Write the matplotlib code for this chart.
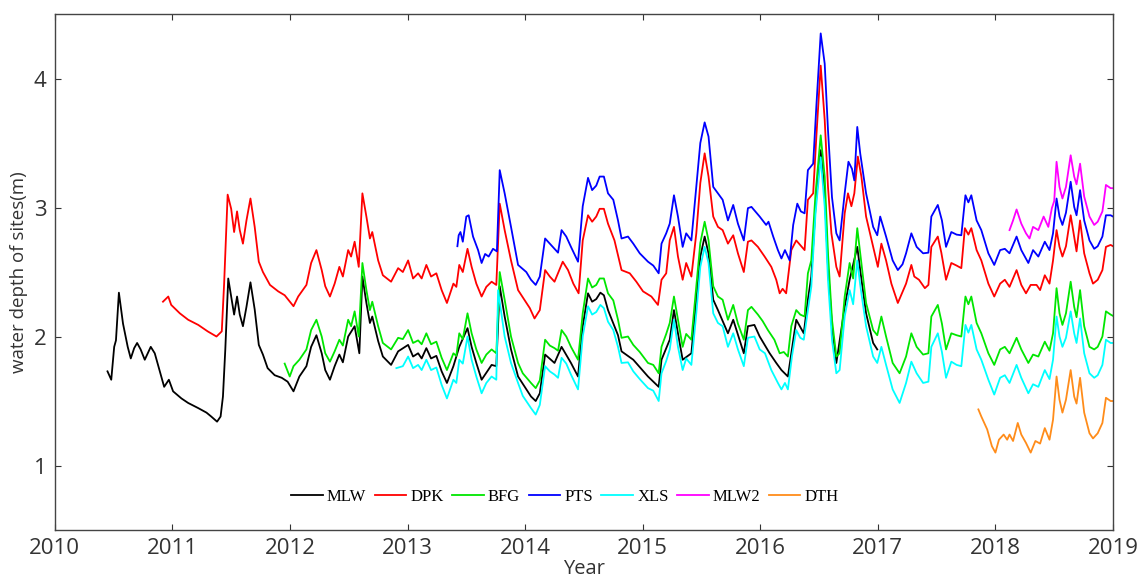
import numpy as np
import matplotlib
matplotlib.use("Agg")
import matplotlib.pyplot as plt

# (year, water depth in m)
mlw = [(2010.448, 1.73), (2010.48, 1.665), (2010.505, 1.92), (2010.52, 1.97), (2010.545, 2.34), (2010.58, 2.10),
       (2010.62, 1.92), (2010.646, 1.83), (2010.675, 1.91), (2010.70, 1.95), (2010.73, 1.90), (2010.765, 1.82),
       (2010.816, 1.92), (2010.85, 1.87), (2010.89, 1.74), (2010.93, 1.61), (2010.97, 1.665), (2011.006, 1.575),
       (2011.077, 1.52), (2011.134, 1.485), (2011.22, 1.445), (2011.29, 1.41), (2011.33, 1.38), (2011.38, 1.34),
       (2011.41, 1.38), (2011.43, 1.535), (2011.45, 1.90), (2011.475, 2.45), (2011.50, 2.31), (2011.525, 2.17),
       (2011.55, 2.31), (2011.573, 2.17), (2011.60, 2.08), (2011.63, 2.23), (2011.664, 2.42), (2011.70, 2.21),
       (2011.735, 1.935), (2011.77, 1.86), (2011.81, 1.755), (2011.87, 1.70), (2011.93, 1.68), (2011.98, 1.65),
       (2012.03, 1.575), (2012.08, 1.69), (2012.14, 1.77), (2012.18, 1.92), (2012.225, 2.01), (2012.27, 1.87),
       (2012.30, 1.74), (2012.34, 1.665), (2012.38, 1.77), (2012.42, 1.86), (2012.45, 1.80), (2012.495, 2.00),
       (2012.55, 2.08), (2012.59, 1.87), (2012.616, 2.465), (2012.65, 2.26), (2012.68, 2.105), (2012.70, 2.155),
       (2012.75, 1.965), (2012.79, 1.845), (2012.86, 1.78), (2012.92, 1.885), (2013.005, 1.935), (2013.047, 1.845),
       (2013.09, 1.87), (2013.12, 1.83), (2013.16, 1.91), (2013.20, 1.83), (2013.245, 1.85), (2013.29, 1.73),
       (2013.335, 1.64), (2013.39, 1.77), (2013.44, 1.92), (2013.51, 2.065), (2013.545, 1.92), (2013.585, 1.795),
       (2013.63, 1.665), (2013.715, 1.78), (2013.755, 1.77), (2013.784, 2.39), (2013.826, 2.155), (2013.88, 1.90),
       (2013.94, 1.69), (2014.05, 1.535), (2014.09, 1.50), (2014.125, 1.56), (2014.17, 1.86), (2014.25, 1.795),
       (2014.31, 1.92), (2014.39, 1.795), (2014.45, 1.69), (2014.49, 2.08), (2014.535, 2.335), (2014.57, 2.27),
       (2014.605, 2.29), (2014.64, 2.34), (2014.67, 2.32), (2014.705, 2.205), (2014.79, 2.01), (2014.82, 1.885),
       (2014.92, 1.82), (2015.045, 1.69), (2015.136, 1.61), (2015.16, 1.82), (2015.23, 1.975), (2015.266, 2.205),
       (2015.30, 2.025), (2015.34, 1.82), (2015.414, 1.87), (2015.456, 2.285), (2015.49, 2.62), (2015.527, 2.775),
       (2015.56, 2.645), (2015.60, 2.285), (2015.64, 2.205), (2015.725, 2.025), (2015.77, 2.13), (2015.86, 1.87),
       (2015.895, 2.08), (2015.95, 2.09), (2015.995, 2.00), (2016.08, 1.87), (2016.136, 1.795), (2016.18, 1.74),
       (2016.235, 1.69), (2016.306, 2.13), (2016.37, 2.025), (2016.405, 2.285), (2016.434, 2.465), (2016.47, 3.005),
       (2016.514, 3.445), (2016.548, 3.11), (2016.576, 2.54), (2016.61, 2.08), (2016.647, 1.795), (2016.718, 2.23),
       (2016.76, 2.44), (2016.825, 2.695), (2016.85, 2.515), (2016.90, 2.18), (2016.96, 1.95), (2016.995, 1.90)]

dpk = [(2010.92, 2.27), (2010.965, 2.31), (2010.99, 2.245), (2011.063, 2.18), (2011.134, 2.13), (2011.22, 2.09),
       (2011.30, 2.04), (2011.375, 2.00), (2011.42, 2.04), (2011.44, 2.41), (2011.47, 3.10), (2011.50, 2.99),
       (2011.525, 2.81), (2011.55, 2.97), (2011.573, 2.825), (2011.60, 2.72), (2011.63, 2.90), (2011.664, 3.07),
       (2011.70, 2.85), (2011.735, 2.58), (2011.77, 2.50), (2011.83, 2.40), (2011.90, 2.35), (2011.955, 2.32),
       (2012.03, 2.235), (2012.07, 2.31), (2012.14, 2.40), (2012.18, 2.57), (2012.225, 2.67), (2012.27, 2.515),
       (2012.30, 2.39), (2012.34, 2.31), (2012.38, 2.41), (2012.42, 2.54), (2012.45, 2.465), (2012.495, 2.67),
       (2012.52, 2.62), (2012.55, 2.735), (2012.585, 2.54), (2012.616, 3.11), (2012.65, 2.93), (2012.68, 2.76),
       (2012.70, 2.81), (2012.75, 2.59), (2012.79, 2.475), (2012.86, 2.425), (2012.92, 2.53), (2012.96, 2.50),
       (2013.005, 2.59), (2013.047, 2.45), (2013.09, 2.49), (2013.12, 2.45), (2013.16, 2.555), (2013.20, 2.465),
       (2013.245, 2.49), (2013.29, 2.36), (2013.335, 2.26), (2013.39, 2.41), (2013.415, 2.385), (2013.44, 2.555),
       (2013.47, 2.50), (2013.51, 2.68), (2013.545, 2.54), (2013.585, 2.41), (2013.63, 2.31), (2013.67, 2.385),
       (2013.715, 2.425), (2013.755, 2.40), (2013.784, 3.03), (2013.826, 2.825), (2013.88, 2.59), (2013.94, 2.36),
       (2013.997, 2.28), (2014.04, 2.22), (2014.08, 2.14), (2014.125, 2.205), (2014.17, 2.515), (2014.21, 2.465),
       (2014.25, 2.425), (2014.32, 2.58), (2014.365, 2.515), (2014.41, 2.41), (2014.455, 2.335), (2014.49, 2.745),
       (2014.535, 2.94), (2014.57, 2.89), (2014.605, 2.93), (2014.634, 2.99), (2014.67, 2.99), (2014.705, 2.875),
       (2014.76, 2.745), (2014.82, 2.515), (2014.89, 2.49), (2014.946, 2.425), (2015.003, 2.35), (2015.074, 2.31),
       (2015.13, 2.245), (2015.16, 2.44), (2015.20, 2.49), (2015.23, 2.745), (2015.266, 2.85), (2015.30, 2.62),
       (2015.34, 2.44), (2015.37, 2.57), (2015.414, 2.465), (2015.456, 2.80), (2015.49, 3.19), (2015.527, 3.42),
       (2015.56, 3.24), (2015.60, 2.93), (2015.64, 2.85), (2015.68, 2.825), (2015.725, 2.72), (2015.77, 2.785),
       (2015.81, 2.645), (2015.86, 2.50), (2015.895, 2.735), (2015.925, 2.745), (2015.98, 2.695), (2016.037, 2.62),
       (2016.094, 2.54), (2016.136, 2.44), (2016.165, 2.335), (2016.19, 2.37), (2016.22, 2.335), (2016.264, 2.67),
       (2016.306, 2.745), (2016.377, 2.67), (2016.405, 3.06), (2016.45, 3.11), (2016.477, 3.55), (2016.514, 4.10),
       (2016.548, 3.68), (2016.576, 3.16), (2016.605, 2.80), (2016.647, 2.54), (2016.675, 2.465), (2016.718, 2.955),
       (2016.746, 3.11), (2016.775, 3.01), (2016.80, 3.11), (2016.83, 3.395), (2016.86, 3.24), (2016.90, 2.93),
       (2016.96, 2.695), (2017.0, 2.54), (2017.03, 2.72), (2017.07, 2.59), (2017.115, 2.41), (2017.17, 2.26),
       (2017.24, 2.41), (2017.285, 2.555), (2017.31, 2.465), (2017.35, 2.44), (2017.40, 2.375), (2017.43, 2.40),
       (2017.455, 2.695), (2017.51, 2.775), (2017.54, 2.65), (2017.58, 2.44), (2017.625, 2.57), (2017.67, 2.55),
       (2017.71, 2.53), (2017.74, 2.84), (2017.77, 2.79), (2017.795, 2.84), (2017.84, 2.67), (2017.88, 2.59),
       (2017.94, 2.41), (2017.99, 2.31), (2018.04, 2.41), (2018.08, 2.44), (2018.12, 2.385), (2018.18, 2.515),
       (2018.22, 2.40), (2018.26, 2.335), (2018.30, 2.40), (2018.35, 2.40), (2018.38, 2.36), (2018.42, 2.475),
       (2018.46, 2.41), (2018.49, 2.59), (2018.52, 2.825), (2018.545, 2.695), (2018.57, 2.62), (2018.60, 2.70),
       (2018.64, 2.94), (2018.67, 2.775), (2018.69, 2.66), (2018.72, 2.90), (2018.755, 2.645), (2018.80, 2.49),
       (2018.83, 2.41), (2018.87, 2.44), (2018.91, 2.515), (2018.94, 2.695), (2018.98, 2.71), (2019.0, 2.70)]

bfg = [(2011.955, 1.79), (2011.998, 1.69), (2012.03, 1.77), (2012.08, 1.82), (2012.14, 1.90), (2012.18, 2.05),
       (2012.225, 2.13), (2012.27, 2.00), (2012.30, 1.87), (2012.34, 1.805), (2012.38, 1.885), (2012.42, 1.975),
       (2012.45, 1.93), (2012.495, 2.13), (2012.52, 2.08), (2012.55, 2.195), (2012.585, 2.00), (2012.616, 2.57),
       (2012.65, 2.36), (2012.68, 2.205), (2012.70, 2.27), (2012.75, 2.08), (2012.79, 1.95), (2012.86, 1.90),
       (2012.92, 1.99), (2012.96, 1.98), (2013.005, 2.05), (2013.047, 1.95), (2013.09, 1.97), (2013.12, 1.94),
       (2013.16, 2.025), (2013.20, 1.94), (2013.245, 1.96), (2013.29, 1.835), (2013.335, 1.74), (2013.39, 1.87),
       (2013.415, 1.85), (2013.44, 2.025), (2013.47, 1.98), (2013.51, 2.18), (2013.545, 2.025), (2013.585, 1.90),
       (2013.63, 1.795), (2013.67, 1.86), (2013.715, 1.90), (2013.755, 1.87), (2013.784, 2.50), (2013.826, 2.285),
       (2013.88, 2.00), (2013.94, 1.795), (2013.98, 1.715), (2014.05, 1.64), (2014.09, 1.60), (2014.125, 1.66),
       (2014.17, 1.975), (2014.21, 1.93), (2014.25, 1.91), (2014.28, 1.89), (2014.31, 2.05), (2014.35, 2.00),
       (2014.39, 1.92), (2014.45, 1.82), (2014.49, 2.18), (2014.535, 2.45), (2014.57, 2.38), (2014.605, 2.40),
       (2014.634, 2.45), (2014.67, 2.45), (2014.705, 2.335), (2014.75, 2.28), (2014.79, 2.13), (2014.82, 1.99),
       (2014.875, 2.00), (2014.92, 1.935), (2014.975, 1.88), (2015.045, 1.795), (2015.09, 1.78), (2015.136, 1.715),
       (2015.16, 1.92), (2015.20, 2.02), (2015.23, 2.105), (2015.266, 2.31), (2015.30, 2.13), (2015.34, 1.92),
       (2015.37, 2.02), (2015.414, 1.975), (2015.456, 2.39), (2015.49, 2.725), (2015.527, 2.89), (2015.56, 2.745),
       (2015.60, 2.39), (2015.64, 2.31), (2015.68, 2.285), (2015.725, 2.13), (2015.77, 2.245), (2015.81, 2.10),
       (2015.86, 1.975), (2015.895, 2.205), (2015.925, 2.23), (2015.98, 2.17), (2016.02, 2.12), (2016.065, 2.05),
       (2016.12, 1.975), (2016.165, 1.87), (2016.20, 1.88), (2016.235, 1.845), (2016.264, 2.08), (2016.306, 2.205),
       (2016.34, 2.17), (2016.377, 2.155), (2016.405, 2.49), (2016.434, 2.59), (2016.47, 3.11), (2016.514, 3.56),
       (2016.548, 3.24), (2016.576, 2.645), (2016.61, 2.13), (2016.647, 1.845), (2016.675, 1.87), (2016.718, 2.31),
       (2016.76, 2.57), (2016.79, 2.45), (2016.825, 2.84), (2016.85, 2.645), (2016.90, 2.26), (2016.96, 2.05),
       (2016.995, 2.01), (2017.03, 2.155), (2017.07, 2.00), (2017.126, 1.795), (2017.185, 1.715), (2017.24, 1.845),
       (2017.285, 2.025), (2017.33, 1.92), (2017.385, 1.86), (2017.43, 1.87), (2017.455, 2.155), (2017.51, 2.245),
       (2017.545, 2.10), (2017.58, 1.90), (2017.625, 2.025), (2017.67, 2.01), (2017.71, 2.00), (2017.745, 2.31),
       (2017.77, 2.25), (2017.795, 2.31), (2017.84, 2.105), (2017.88, 2.025), (2017.94, 1.87), (2017.99, 1.78),
       (2018.04, 1.90), (2018.08, 1.92), (2018.12, 1.87), (2018.18, 1.99), (2018.22, 1.90), (2018.28, 1.795),
       (2018.32, 1.86), (2018.365, 1.845), (2018.42, 1.96), (2018.46, 1.89), (2018.49, 2.025), (2018.52, 2.375),
       (2018.545, 2.18), (2018.57, 2.09), (2018.60, 2.18), (2018.64, 2.425), (2018.67, 2.23), (2018.69, 2.15),
       (2018.72, 2.36), (2018.755, 2.08), (2018.80, 1.92), (2018.84, 1.90), (2018.87, 1.92), (2018.91, 2.00),
       (2018.94, 2.195), (2018.98, 2.17), (2019.0, 2.16)]

pts = [(2013.424, 2.70), (2013.435, 2.785), (2013.45, 2.81), (2013.47, 2.735), (2013.50, 2.93), (2013.52, 2.94),
       (2013.557, 2.775), (2013.60, 2.67), (2013.63, 2.57), (2013.66, 2.64), (2013.69, 2.62), (2013.727, 2.68),
       (2013.76, 2.66), (2013.784, 3.29), (2013.826, 3.11), (2013.88, 2.85), (2013.94, 2.555), (2014.01, 2.50),
       (2014.05, 2.44), (2014.09, 2.40), (2014.125, 2.465), (2014.17, 2.76), (2014.21, 2.72), (2014.25, 2.68),
       (2014.28, 2.65), (2014.31, 2.825), (2014.35, 2.775), (2014.39, 2.695), (2014.45, 2.58), (2014.49, 3.01),
       (2014.535, 3.23), (2014.57, 3.135), (2014.605, 3.17), (2014.634, 3.24), (2014.67, 3.24), (2014.705, 3.11),
       (2014.75, 3.06), (2014.79, 2.90), (2014.82, 2.76), (2014.875, 2.775), (2014.92, 2.72), (2014.975, 2.645),
       (2015.045, 2.58), (2015.09, 2.55), (2015.136, 2.49), (2015.16, 2.72), (2015.20, 2.80), (2015.23, 2.875),
       (2015.266, 3.095), (2015.30, 2.93), (2015.34, 2.695), (2015.37, 2.80), (2015.414, 2.745), (2015.456, 3.16),
       (2015.49, 3.50), (2015.527, 3.66), (2015.56, 3.55), (2015.60, 3.16), (2015.64, 3.11), (2015.68, 3.06),
       (2015.725, 2.90), (2015.77, 3.02), (2015.81, 2.875), (2015.86, 2.745), (2015.895, 2.995), (2015.925, 3.005),
       (2015.995, 2.93), (2016.05, 2.865), (2016.07, 2.89), (2016.11, 2.775), (2016.15, 2.67), (2016.18, 2.605),
       (2016.21, 2.67), (2016.25, 2.59), (2016.28, 2.865), (2016.315, 3.03), (2016.345, 2.97), (2016.377, 2.955),
       (2016.405, 3.29), (2016.45, 3.34), (2016.477, 3.785), (2016.514, 4.35), (2016.548, 4.115), (2016.576, 3.60),
       (2016.61, 3.08), (2016.647, 2.80), (2016.675, 2.745), (2016.718, 3.11), (2016.75, 3.355), (2016.78, 3.30),
       (2016.80, 3.21), (2016.825, 3.625), (2016.85, 3.42), (2016.90, 3.11), (2016.96, 2.85), (2016.995, 2.785),
       (2017.02, 2.93), (2017.07, 2.775), (2017.126, 2.59), (2017.17, 2.515), (2017.21, 2.56), (2017.24, 2.645),
       (2017.285, 2.80), (2017.33, 2.695), (2017.385, 2.645), (2017.43, 2.65), (2017.455, 2.93), (2017.51, 3.02),
       (2017.545, 2.90), (2017.58, 2.695), (2017.625, 2.81), (2017.67, 2.79), (2017.71, 2.785), (2017.745, 3.095),
       (2017.77, 3.04), (2017.795, 3.095), (2017.84, 2.90), (2017.88, 2.825), (2017.94, 2.645), (2017.99, 2.555),
       (2018.04, 2.67), (2018.08, 2.68), (2018.12, 2.645), (2018.18, 2.775), (2018.22, 2.67), (2018.28, 2.57),
       (2018.32, 2.67), (2018.365, 2.62), (2018.42, 2.735), (2018.46, 2.67), (2018.49, 2.80), (2018.52, 3.07),
       (2018.545, 2.93), (2018.57, 2.865), (2018.60, 2.96), (2018.64, 3.20), (2018.67, 3.005), (2018.69, 2.94),
       (2018.72, 3.135), (2018.755, 2.90), (2018.80, 2.745), (2018.84, 2.68), (2018.87, 2.70), (2018.91, 2.775),
       (2018.94, 2.94), (2018.98, 2.94), (2019.0, 2.93)]

xls = [(2012.905, 1.755), (2012.96, 1.77), (2013.005, 1.845), (2013.047, 1.755), (2013.09, 1.78), (2013.12, 1.74),
       (2013.16, 1.82), (2013.20, 1.74), (2013.245, 1.76), (2013.29, 1.625), (2013.335, 1.52), (2013.39, 1.665),
       (2013.415, 1.64), (2013.44, 1.82), (2013.47, 1.79), (2013.51, 2.00), (2013.545, 1.82), (2013.585, 1.69),
       (2013.63, 1.56), (2013.67, 1.64), (2013.715, 1.69), (2013.755, 1.665), (2013.77, 2.36), (2013.826, 2.00),
       (2013.88, 1.795), (2013.94, 1.64), (2013.98, 1.54), (2014.05, 1.445), (2014.09, 1.395), (2014.125, 1.47),
       (2014.17, 1.77), (2014.21, 1.73), (2014.25, 1.705), (2014.28, 1.68), (2014.31, 1.835), (2014.35, 1.79),
       (2014.39, 1.705), (2014.45, 1.59), (2014.49, 2.00), (2014.535, 2.235), (2014.57, 2.17), (2014.605, 2.19),
       (2014.64, 2.245), (2014.67, 2.22), (2014.705, 2.115), (2014.75, 2.05), (2014.79, 1.92), (2014.82, 1.795),
       (2014.875, 1.80), (2014.92, 1.73), (2014.975, 1.67), (2015.045, 1.60), (2015.09, 1.58), (2015.136, 1.50),
       (2015.16, 1.715), (2015.20, 1.81), (2015.23, 1.90), (2015.266, 2.13), (2015.30, 1.92), (2015.34, 1.74),
       (2015.37, 1.83), (2015.414, 1.78), (2015.456, 2.18), (2015.49, 2.54), (2015.527, 2.695), (2015.56, 2.57),
       (2015.60, 2.18), (2015.64, 2.105), (2015.68, 2.08), (2015.725, 1.92), (2015.77, 2.025), (2015.81, 1.90),
       (2015.86, 1.77), (2015.895, 1.99), (2015.95, 2.00), (2015.995, 1.90), (2016.04, 1.87), (2016.094, 1.74),
       (2016.15, 1.64), (2016.18, 1.59), (2016.21, 1.64), (2016.235, 1.59), (2016.27, 1.85), (2016.306, 2.05),
       (2016.34, 1.99), (2016.37, 1.975), (2016.405, 2.205), (2016.434, 2.385), (2016.47, 2.955), (2016.514, 3.39),
       (2016.548, 3.005), (2016.576, 2.44), (2016.61, 1.975), (2016.647, 1.715), (2016.675, 1.74), (2016.718, 2.155),
       (2016.76, 2.36), (2016.79, 2.25), (2016.825, 2.59), (2016.85, 2.40), (2016.90, 2.08), (2016.96, 1.845),
       (2016.995, 1.795), (2017.03, 1.92), (2017.07, 1.78), (2017.126, 1.59), (2017.185, 1.485), (2017.24, 1.64),
       (2017.285, 1.805), (2017.33, 1.715), (2017.385, 1.64), (2017.43, 1.65), (2017.455, 1.92), (2017.51, 2.025),
       (2017.545, 1.88), (2017.58, 1.68), (2017.625, 1.805), (2017.67, 1.78), (2017.71, 1.77), (2017.745, 2.09),
       (2017.77, 2.03), (2017.795, 2.09), (2017.84, 1.90), (2017.88, 1.82), (2017.94, 1.665), (2017.99, 1.55),
       (2018.04, 1.68), (2018.08, 1.70), (2018.12, 1.64), (2018.18, 1.78), (2018.22, 1.68), (2018.28, 1.56),
       (2018.32, 1.63), (2018.365, 1.61), (2018.42, 1.74), (2018.46, 1.67), (2018.49, 1.82), (2018.52, 2.155),
       (2018.545, 2.00), (2018.57, 1.92), (2018.60, 1.99), (2018.64, 2.195), (2018.67, 2.025), (2018.69, 1.95),
       (2018.72, 2.14), (2018.755, 1.87), (2018.80, 1.715), (2018.84, 1.68), (2018.87, 1.70), (2018.91, 1.78),
       (2018.94, 1.975), (2018.98, 1.95), (2019.0, 1.95)]

mlw2 = [(2018.12, 2.825), (2018.15, 2.90), (2018.18, 2.985), (2018.22, 2.875), (2018.26, 2.80), (2018.29, 2.76),
        (2018.32, 2.85), (2018.365, 2.825), (2018.41, 2.93), (2018.45, 2.85), (2018.48, 2.995), (2018.50, 3.05),
        (2018.52, 3.355), (2018.545, 3.16), (2018.57, 3.07), (2018.60, 3.16), (2018.64, 3.405), (2018.67, 3.24),
        (2018.69, 3.18), (2018.72, 3.34), (2018.755, 3.085), (2018.80, 2.93), (2018.84, 2.865), (2018.87, 2.89),
        (2018.91, 2.97), (2018.94, 3.175), (2018.98, 3.15), (2019.0, 3.15)]

dth = [(2017.855, 1.435), (2017.88, 1.38), (2017.93, 1.28), (2017.97, 1.15), (2018.0, 1.10), (2018.03, 1.20),
       (2018.07, 1.24), (2018.10, 1.20), (2018.12, 1.24), (2018.15, 1.19), (2018.19, 1.33), (2018.22, 1.24),
       (2018.26, 1.175), (2018.30, 1.10), (2018.34, 1.19), (2018.38, 1.17), (2018.42, 1.29), (2018.46, 1.20),
       (2018.49, 1.355), (2018.52, 1.69), (2018.545, 1.51), (2018.57, 1.41), (2018.60, 1.51), (2018.64, 1.74),
       (2018.67, 1.535), (2018.69, 1.48), (2018.72, 1.68), (2018.755, 1.41), (2018.80, 1.25), (2018.83, 1.21),
       (2018.87, 1.25), (2018.91, 1.33), (2018.94, 1.525), (2018.98, 1.50), (2019.0, 1.50)]

names = ["MLW", "DPK", "BFG", "PTS", "XLS", "MLW2", "DTH"]
series = [mlw, dpk, bfg, pts, xls, mlw2, dth]
colors = ["black", "#ff0000", "#00e600", "#0000ff", "#00ffff", "#ff00ff", "#ff8c1a"]
year_ticks = list(range(2010, 2020))

fig = plt.figure(figsize=(11.42, 5.85), dpi=100)
ax = fig.add_axes([0.048, 0.094, 0.9266, 0.882])

for name, data, c in zip(names, series, colors):
    t, v = np.array(data).T
    ax.plot(t, v, color=c, lw=1.3, label=name)

ax.set_xlim(2010, 2019)
ax.set_ylim(0.5, 4.5)
ax.set_xticks(year_ticks)
ax.set_yticks([1, 2, 3, 4])
ax.tick_params(direction="in", top=True, right=True, length=4, width=0.8,
               labelsize=16, colors="#333333", pad=6)
for lab in ax.get_xticklabels() + ax.get_yticklabels():
    lab.set_family("Open Sans")
for s in ax.spines.values():
    s.set_color("#444444")
    s.set_linewidth(1.0)

ax.set_xlabel("Year", fontsize=14.5, family="Open Sans", color="#333333", labelpad=0)
ax.set_ylabel("water depth of sites(m)", fontsize=13.5, family="Open Sans", color="#333333", labelpad=4)

ax.legend(loc="center", bbox_to_anchor=(0.482, 0.064), ncol=7, frameon=False,
          prop={"family": "Liberation Serif", "size": 12}, handlelength=1.9,
          handletextpad=0.25, columnspacing=0.5)

fig.savefig("out.png", dpi=100)
